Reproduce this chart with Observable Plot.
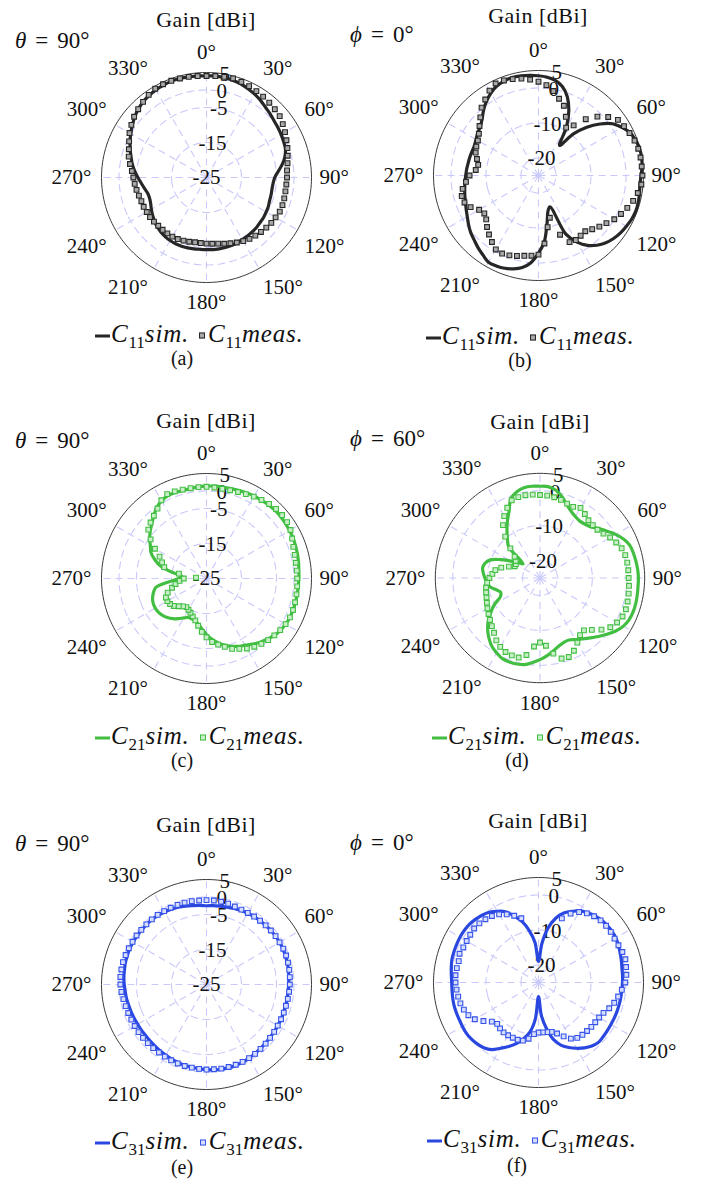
<!DOCTYPE html>
<html><head><meta charset="utf-8">
<script src="https://cdn.jsdelivr.net/npm/d3@7"></script>
<script src="https://cdn.jsdelivr.net/npm/@observablehq/plot@0.6"></script>
<style>
body{margin:0;background:#fff;}
#root{position:relative;width:704px;height:1186px;overflow:hidden;font-family:"Liberation Serif","Times New Roman","Tinos","DejaVu Serif";color:#111;}
.abs{position:absolute;white-space:nowrap;line-height:1;}
.title{font-size:22px;letter-spacing:0.5px;transform:translate(-50%,-50%);}
.cut{font-size:23px;transform:translateY(-50%);}
.cut .eq{margin:0 9px;}
.leg{font-size:25px;transform:translateY(-50%);letter-spacing:0.8px;}
.leg .sub{font-size:17px;font-style:normal;position:relative;top:6px;letter-spacing:0;}
.leg .sl{display:inline-block;width:15px;height:3.5px;vertical-align:middle;margin-right:1px;}
.leg .sq{display:inline-block;width:4px;height:4px;border:1.3px solid;vertical-align:middle;margin:0 3px 0 10px;}
.cap{font-size:20px;transform:translate(-50%,-50%);}
.panel{position:absolute;}
</style></head><body><div id="root"></div>
<script>
const GAIN_MIN = -25, GAIN_MAX = 5;
const ANGLES = [0,5,10,15,20,25,30,35,40,45,50,55,60,65,70,75,80,85,90,95,100,105,110,115,120,125,130,135,140,145,150,155,160,165,170,175,180,185,190,195,200,205,210,215,220,225,230,235,240,245,250,255,260,265,270,275,280,285,290,295,300,305,310,315,320,325,330,335,340,345,350,355];

const SIM_A = [4.0,4.1,4.0,3.8,3.5,3.0,2.5,1.9,1.2,0.7,0.2,-0.1,-0.4,-0.7,-1.0,-1.8,-3.0,-4.4,-5.5,-5.9,-6.0,-5.9,-5.8,-5.5,-5.3,-5.1,-5.0,-4.8,-4.7,-4.6,-4.5,-4.4,-4.3,-4.3,-4.3,-4.3,-4.4,-4.4,-4.3,-4.2,-4.1,-4.1,-4.2,-4.4,-4.7,-5.1,-5.6,-6.2,-6.8,-7.4,-7.7,-7.6,-7.0,-6.3,-5.4,-4.4,-3.5,-2.7,-1.8,-0.9,0.0,0.9,1.8,2.6,3.2,3.6,3.9,4.1,4.3,4.3,4.2,4.1];
const MEAS_A = [4.0,4.1,4.2,4.3,4.1,3.8,3.5,3.2,2.9,2.6,2.3,1.6,0.9,0.2,-0.4,-1.0,-1.5,-1.9,-2.0,-2.1,-2.1,-2.0,-1.9,-1.9,-2.2,-2.4,-2.7,-3.0,-3.3,-3.6,-4.0,-4.5,-5.0,-5.4,-5.8,-6.0,-6.1,-6.2,-6.2,-6.0,-5.8,-5.6,-5.5,-5.5,-5.5,-5.5,-5.4,-5.3,-5.3,-5.2,-5.2,-5.0,-4.7,-4.4,-4.1,-3.6,-2.8,-2.0,-1.4,-0.6,0.4,1.2,2.0,2.6,3.2,3.8,4.3,4.4,4.4,4.3,4.2,4.1];

const SIM_B = [3.5,3.2,2.6,1.3,-1.0,-4.5,-9.0,-14.5,-9.5,-5.5,-2.1,0.8,2.5,3.9,4.5,4.9,4.9,4.7,4.3,4.1,4.3,4.5,4.6,4.4,4.0,3.6,3.0,2.2,1.0,-0.6,-3.0,-6.5,-15.5,-14.5,-11.0,-6.0,-2.8,0.0,1.7,2.6,3.2,3.5,3.6,2.7,1.9,1.0,0.3,-0.6,-1.5,-2.2,-2.8,-3.2,-3.6,-3.9,-4.2,-4.4,-4.6,-4.7,-4.8,-4.8,-4.4,-3.8,-3.3,-2.2,-0.6,0.9,2.2,3.2,3.7,4.0,3.9,3.7];
const MEAS_B = [1.8,0.9,-0.5,-2.3,-3.8,-6.5,-9.2,-7.5,-4.0,-1.2,1.0,2.7,3.2,3.7,4.2,4.5,4.6,4.6,4.7,4.5,3.8,3.0,2.0,1.0,0.0,-1.3,-2.3,-3.3,-4.2,-4.0,-3.7,-4.0,-7.0,-12.5,-10.0,-5.5,-2.4,-2.0,-1.7,-1.2,-0.7,-0.4,-0.6,-1.8,-3.0,-4.2,-5.5,-6.1,-5.4,-3.6,-2.5,-2.3,-3.0,-4.2,-5.3,-7.0,-7.5,-6.8,-5.9,-5.4,-5.0,-4.2,-3.0,-1.5,0.3,1.5,3.0,4.0,3.9,3.5,3.1,2.5];

const SIM_C = [1.4,1.5,1.5,1.6,1.8,2.0,2.2,2.3,2.5,2.6,2.6,2.5,2.4,2.3,2.1,1.9,1.7,1.5,1.4,1.3,1.3,1.3,1.3,1.3,1.1,0.8,0.3,-0.5,-1.2,-2.1,-3.0,-3.6,-4.4,-5.3,-6.4,-7.6,-9.0,-10.5,-11.7,-12.4,-12.7,-12.7,-12.0,-11.0,-10.0,-9.2,-8.6,-8.2,-8.1,-8.2,-8.6,-9.3,-10.3,-14.3,-17.0,-18.0,-15.2,-11.5,-9.3,-7.5,-6.5,-5.2,-4.0,-2.9,-1.6,-0.2,0.6,1.1,1.1,1.0,1.1,1.3];
const MEAS_C = [1.2,1.1,1.0,1.1,1.3,1.6,2.0,2.4,2.8,3.1,3.2,3.1,2.7,2.0,1.4,1.1,0.9,0.9,0.9,1.0,1.1,1.2,1.3,1.3,1.1,0.7,0.3,-0.1,-0.6,-1.2,-1.9,-2.8,-3.6,-4.8,-5.8,-6.8,-8.2,-9.7,-11.3,-12.6,-13.5,-14.2,-14.7,-15.0,-14.6,-13.8,-12.8,-12.3,-12.1,-12.2,-13.2,-14.8,-16.0,-17.3,-18.5,-22.0,-17.0,-12.5,-11.5,-10.2,-8.0,-5.5,-3.3,-2.4,-1.6,-0.6,0.8,1.6,1.5,1.3,1.2,1.2];

const SIM_D = [1.3,1.3,0.6,-0.8,-2.6,-3.9,-4.7,-5.1,-4.9,-4.3,-2.9,-1.6,0.0,1.4,2.4,2.7,2.9,3.1,3.2,3.2,3.3,3.4,3.4,3.2,2.6,1.5,0.1,-1.3,-2.6,-3.7,-4.6,-5.4,-5.3,-4.7,-3.7,-2.6,-1.6,-0.7,0.2,0.5,0.6,0.5,-0.2,-1.0,-2.3,-3.8,-5.6,-7.8,-10.0,-12.5,-13.0,-12.0,-10.4,-9.7,-9.2,-8.7,-8.3,-8.7,-9.8,-12.5,-15.3,-17.2,-18.7,-12.3,-10.5,-8.5,-6.3,-4.0,-0.7,0.6,1.3,1.4];
const MEAS_D = [-1.2,-1.3,-1.5,-1.8,-2.3,-2.5,-1.8,-2.6,-3.4,-3.6,-3.5,-2.8,-1.8,-0.9,-0.1,0.3,0.4,0.4,0.4,0.6,0.8,1.0,1.2,1.1,0.5,-0.4,-2.0,-4.0,-5.4,-5.0,-3.6,-2.0,-0.9,-1.1,-3.0,-5.5,-6.5,-5.3,-2.6,-1.4,-1.4,-1.6,-2.2,-3.2,-4.5,-5.5,-6.3,-7.0,-7.6,-8.2,-8.7,-9.0,-9.3,-9.8,-10.5,-11.3,-12.0,-13.5,-15.5,-17.0,-17.0,-16.5,-15.5,-13.0,-9.5,-6.5,-4.5,-2.8,-1.3,-1.0,-0.9,-1.0];

const SIM_E = [-2.5,-2.4,-2.3,-2.1,-1.9,-1.7,-1.5,-1.3,-1.2,-1.1,-1.0,-0.9,-0.9,-0.9,-1.0,-1.1,-1.2,-1.4,-1.5,-1.6,-1.6,-1.6,-1.6,-1.5,-1.5,-1.4,-1.4,-1.2,-1.1,-0.9,-0.7,-0.5,-0.4,-0.4,-0.4,-0.5,-0.7,-0.8,-1.0,-1.1,-1.3,-1.5,-1.7,-1.9,-2.1,-2.2,-2.3,-2.3,-2.3,-2.2,-2.1,-2.0,-1.8,-1.7,-1.5,-1.3,-1.2,-1.0,-0.9,-0.8,-0.8,-0.8,-0.8,-0.8,-0.8,-0.9,-1.1,-1.3,-1.5,-1.8,-2.1,-2.3];
const MEAS_E = [-0.9,-0.9,-1.0,-1.1,-1.3,-1.4,-1.4,-1.3,-1.2,-1.1,-1.0,-0.9,-0.9,-0.8,-0.8,-0.9,-1.0,-1.1,-1.2,-1.3,-1.4,-1.5,-1.5,-1.5,-1.5,-1.4,-1.3,-1.1,-1.0,-0.8,-0.7,-0.6,-0.6,-0.6,-0.6,-0.7,-0.7,-0.8,-0.9,-0.9,-1.0,-1.1,-1.2,-1.3,-1.3,-1.3,-1.3,-1.3,-1.3,-1.3,-1.2,-1.1,-0.9,-0.6,-0.4,-0.3,-0.3,-0.3,-0.4,-0.5,-0.6,-0.6,-0.7,-0.7,-0.7,-0.7,-0.8,-0.8,-0.8,-0.8,-0.8,-0.9];

const SIM_F = [-19.0,-13.8,-9.2,-6.0,-3.9,-2.6,-1.3,-0.7,-0.1,0.3,0.5,0.6,0.5,0.2,-0.2,-0.5,-0.8,-0.9,-1.0,-1.1,-1.1,-1.1,-1.1,-1.1,-1.1,-1.0,-0.9,-0.8,-1.3,-2.2,-3.3,-4.5,-5.9,-8.0,-11.5,-15.5,-21.0,-14.5,-10.5,-8.3,-6.4,-4.8,-3.3,-1.6,-0.7,-0.2,0.1,0.2,0.1,0.0,0.0,0.0,-0.1,-0.2,-0.2,0.0,0.3,0.6,0.7,0.8,0.9,0.9,0.8,0.5,0.1,-0.5,-1.5,-2.7,-4.8,-7.0,-10.0,-13.5];
const MEAS_F = [null,null,null,null,-5.5,-3.3,-1.8,-0.9,-0.3,0.1,0.2,0.2,0.1,0.2,0.5,0.7,0.4,0.2,-0.2,-1.1,-1.9,-2.6,-3.5,-4.5,-5.0,-5.2,-5.3,-5.4,-5.5,-5.7,-6.5,-8.0,-9.5,-10.4,-10.6,-10.7,-10.7,-10.2,-8.7,-7.8,-7.6,-7.6,-7.6,-7.6,-7.9,-8.3,-7.6,-5.8,-4.0,-2.9,-2.3,-1.9,-1.7,-1.5,-1.3,-1.2,-1.3,-1.4,-1.0,-1.3,-1.3,-1.2,-1.0,-1.1,-1.4,-1.8,-2.5,-3.5,-4.7,-6.0,null,null];

const ANGLE_TICKS = [0,30,60,90,120,150,180,210,240,270,300,330];
const RTICKS_THETA = [5,0,-5,-15,-25];
const RTICKS_PHI = [5,0,-10,-20];
const GRID_THETA = [-15,-5,0];
const GRID_PHI = [-20,-10,0];
const CUT_VARS = ["θ","ϕ","θ","ϕ","θ","ϕ"];
const CUT_VALUES = ["90°","0°","90°","60°","90°","0°"];
const PORTS = ["11","11","21","21","31","31"];
const CAPTIONS = ["(a)","(b)","(c)","(d)","(e)","(f)"];
const AXIS_TITLE = "Gain [dBi]";
const SIM_LABEL = "sim.", MEAS_LABEL = "meas.";

// styles / layout (not data)
const FONT = "'Liberation Serif','Times New Roman','Tinos','DejaVu Serif'";
const THEMES = {
  black: {line: "#262626", fill: "#a8a8a8", stroke: "#262626"},
  green: {line: "#42be42", fill: "#c9efc9", stroke: "#42be42"},
  blue:  {line: "#2a47e0", fill: "#d6ddff", stroke: "#3553ea"}
};
const LAYOUT = [
  {cx:206, cy:177, titleY:20,  cutX:15,  cutY:40,  legX:95,  legY:333,  capX:182, capY:358},
  {cx:538, cy:175, titleY:16,  cutX:350, cutY:34,  legX:426, legY:335,  capX:520, capY:360},
  {cx:206, cy:578, titleY:421, cutX:15,  cutY:440, legX:95,  legY:735,  capX:182, capY:760},
  {cx:540, cy:578, titleY:422, cutX:350, cutY:438, legX:432, legY:735,  capX:517, capY:760},
  {cx:206, cy:984, titleY:825, cutX:15,  cutY:843, legX:95,  legY:1140, capX:182, capY:1167},
  {cx:538, cy:982, titleY:821, cutX:350, cutY:842, legX:427, legY:1138, capX:517, capY:1165}
];
const PANELS = [
  {sim: SIM_A, meas: MEAS_A, rticks: RTICKS_THETA, grid: GRID_THETA, theme: THEMES.black},
  {sim: SIM_B, meas: MEAS_B, rticks: RTICKS_PHI,   grid: GRID_PHI,   theme: THEMES.black},
  {sim: SIM_C, meas: MEAS_C, rticks: RTICKS_THETA, grid: GRID_THETA, theme: THEMES.green},
  {sim: SIM_D, meas: MEAS_D, rticks: RTICKS_PHI,   grid: GRID_PHI,   theme: THEMES.green},
  {sim: SIM_E, meas: MEAS_E, rticks: RTICKS_THETA, grid: GRID_THETA, theme: THEMES.blue},
  {sim: SIM_F, meas: MEAS_F, rticks: RTICKS_PHI,   grid: GRID_PHI,   theme: THEMES.blue}
];
const R_PX = 105, LABEL_PAD_DB = 2.3, RLABEL_ANGLE = 10;
const ANCHOR_DY = {bottom: -5, middle: 0, top: 4};
const ANCHOR_DX = {start: 0, middle: 0, end: -2};
const GRID_COLOR = "#c9c9fb";

const root = document.getElementById("root");
const span = GAIN_MAX - GAIN_MIN;
const lon = t => 180 - t;
const lat = g => 90 - (g - GAIN_MIN);
const cap = r => d3.geoCircle().center([0, 90]).radius(r)();

function addDiv(cls, html, x, y) {
  const d = document.createElement("div");
  d.className = "abs " + cls;
  d.innerHTML = html;
  d.style.left = x + "px"; d.style.top = y + "px";
  root.appendChild(d);
  return d;
}

PANELS.forEach((p, i) => {
  const L = LAYOUT[i], th = p.theme;
  const W = 330, H = 320, lx = 165, ly = 160;
  const simRows = ANGLES.map((t, k) => ({t, g: p.sim[k]}));
  const measRows = ANGLES.map((t, k) => ({t, g: p.meas[k]})).filter(d => d.g != null);
  const labelRows = ANGLE_TICKS.map(t => {
    const a = t * Math.PI / 180, s = Math.sin(a), c = Math.cos(a);
    return {t, ta: s > 0.3 ? "start" : s < -0.3 ? "end" : "middle", la: c > 0.3 ? "bottom" : c < -0.3 ? "top" : "middle"};
  });
  const angleMarks = d3.groups(labelRows, d => d.ta + "|" + d.la).map(([, rows]) =>
    Plot.text(rows, {x: d => lon(d.t), y: () => lat(GAIN_MAX + LABEL_PAD_DB), text: d => d.t + "°",
      textAnchor: rows[0].ta, lineAnchor: rows[0].la, dy: ANCHOR_DY[rows[0].la], dx: ANCHOR_DX[rows[0].ta], fill: "#111"}));

  const chart = Plot.plot({
    width: W, height: H, margin: 0,
    style: {fontFamily: FONT, fontSize: "21px", background: "transparent", overflow: "visible"},
    projection: {
      type: "azimuthal-equidistant", rotate: [0, -90], domain: cap(span),
      insetLeft: lx - R_PX, insetRight: W - lx - R_PX, insetTop: ly - R_PX, insetBottom: H - ly - R_PX
    },
    marks: [
      Plot.geo(p.grid.map(g => cap(g - GAIN_MIN)), {stroke: GRID_COLOR, strokeWidth: 1.1, strokeDasharray: "7,5", fill: "none"}),
      Plot.link(ANGLE_TICKS, {x1: d => lon(d), y1: () => 90, x2: d => lon(d), y2: () => lat(GAIN_MAX),
        stroke: GRID_COLOR, strokeWidth: 1.1, strokeDasharray: "7,5"}),
      Plot.geo([cap(span)], {stroke: "#3a3a3a", strokeWidth: 1, fill: "none"}),
      ...angleMarks,
      Plot.text(p.rticks, {x: () => lon(RLABEL_ANGLE), y: d => lat(d), text: d => String(d), textAnchor: "middle", lineAnchor: "middle", fill: "#111"}),
      Plot.line(simRows, {x: d => lon(d.t), y: d => lat(d.g), curve: "catmull-rom-closed", stroke: th.line, strokeWidth: 3.2}),
      Plot.dot(measRows, {x: d => lon(d.t), y: d => lat(d.g), symbol: "square", r: 2.7, fill: th.fill, stroke: th.stroke, strokeWidth: 1.1})
    ]
  });
  const holder = document.createElement("div");
  holder.className = "panel";
  holder.style.left = (L.cx - lx) + "px";
  holder.style.top = (L.cy - ly) + "px";
  holder.appendChild(chart);
  root.appendChild(holder);

  addDiv("title", AXIS_TITLE, L.cx, L.titleY);
  addDiv("cut", `<i>${CUT_VARS[i]}</i><span class="eq">=</span>${CUT_VALUES[i]}`, L.cutX, L.cutY);
  addDiv("leg",
    `<span class="sl" style="background:${th.line}"></span><i>C</i><span class="sub">${PORTS[i]}</span><i>${SIM_LABEL}</i>` +
    `<span class="sq" style="background:${th.fill};border-color:${th.stroke}"></span><i>C</i><span class="sub">${PORTS[i]}</span><i>${MEAS_LABEL}</i>`,
    L.legX, L.legY);
  addDiv("cap", CAPTIONS[i], L.capX, L.capY);
});
</script></body></html>
